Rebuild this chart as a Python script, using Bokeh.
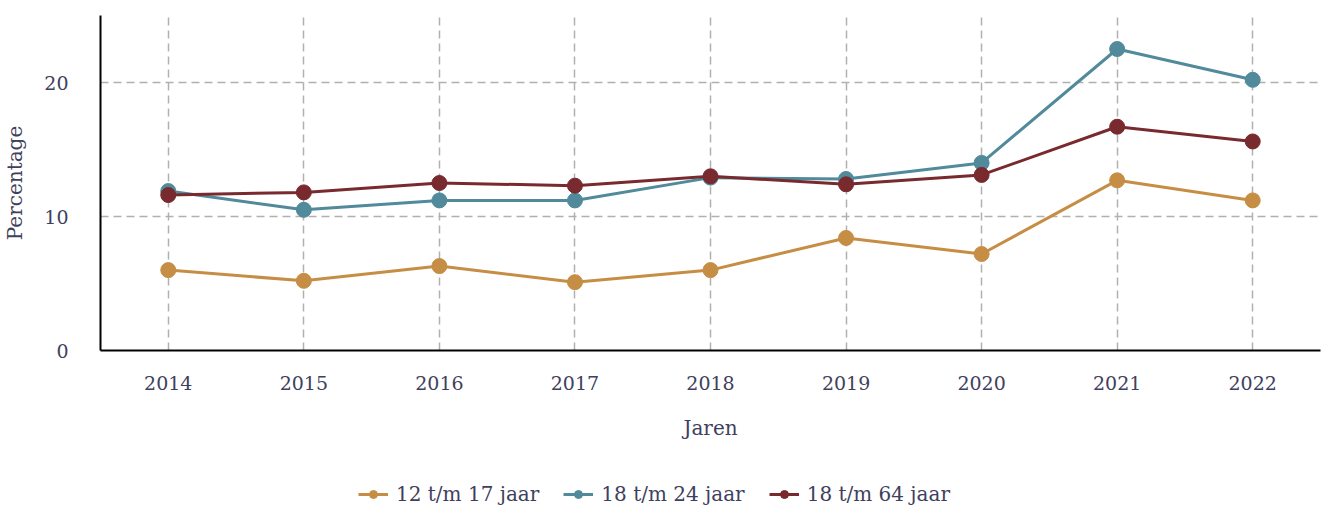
from bokeh.plotting import figure
from bokeh.models import Legend, FixedTicker, Range1d
from bokeh.layouts import column
from bokeh.embed import file_html
from bokeh.resources import INLINE

years = [2014, 2015, 2016, 2017, 2018, 2019, 2020, 2021, 2022]
age_12_17 = [6.0, 5.2, 6.3, 5.1, 6.0, 8.4, 7.2, 12.7, 11.2]
age_18_24 = [11.9, 10.5, 11.2, 11.2, 12.9, 12.8, 14.0, 22.5, 20.2]
age_18_64 = [11.6, 11.8, 12.5, 12.3, 13.0, 12.4, 13.1, 16.7, 15.6]
series_names = ["12 t/m 17 jaar", "18 t/m 24 jaar", "18 t/m 64 jaar"]
colors = ["#C68E45", "#508A9B", "#782A2E"]
y_ticks = [0, 10, 20]

FONT = "DejaVu Serif"
TXT = "#3F3F5E"

p = figure(frame_width=1220, frame_height=335, output_backend="svg", toolbar_location=None,
           x_range=Range1d(2013.5, 2022.5), y_range=Range1d(0, 25),
           min_border_left=100, min_border_right=7, min_border_top=15, min_border_bottom=100)
p.outline_line_color = None
p.background_fill_color = "white"

for name, vals, c in zip(series_names, [age_12_17, age_18_24, age_18_64], colors):
    p.line(years, vals, line_color=c, line_width=3)
    p.scatter(years, vals, size=15, fill_color=c, line_color=c)

p.xaxis.ticker = FixedTicker(ticks=years)
p.yaxis.ticker = FixedTicker(ticks=y_ticks)
for ax in [p.xaxis[0], p.yaxis[0]]:
    ax.major_tick_line_color = None
    ax.minor_tick_line_color = None
    ax.axis_line_color = "black"
    ax.axis_line_width = 2
    ax.major_label_text_font = FONT
    ax.major_label_text_font_size = "19px"
    ax.major_label_text_color = TXT
    ax.axis_label_text_font = FONT
    ax.axis_label_text_font_size = "20px"
    ax.axis_label_text_color = TXT
    ax.axis_label_text_font_style = "normal"
p.xaxis.axis_label = "Jaren"
p.yaxis.axis_label = "Percentage"
p.xaxis.major_label_standoff = 19
p.xaxis.axis_label_standoff = 23
p.yaxis.major_label_standoff = 26
p.yaxis.axis_label_standoff = 14

p.xgrid.grid_line_color = "#B0B0B0"
p.ygrid.grid_line_color = "#B0B0B0"
p.xgrid.grid_line_dash = "8 5"
p.ygrid.grid_line_dash = "8 5"
p.xgrid.grid_line_width = 1.5
p.ygrid.grid_line_width = 1.5

# legend strip below the chart: key renderers sit outside the visible range
lg = figure(width=1327, height=508 - 450, output_backend="svg", toolbar_location=None,
            x_axis_type=None, y_axis_type=None, x_range=Range1d(0, 1), y_range=Range1d(0, 1),
            min_border=0)
lg.outline_line_color = None
lg.xgrid.visible = False
lg.ygrid.visible = False
items = []
for name, c in zip(series_names, colors):
    l = lg.line(x=[5, 6], y=[5, 6], line_color=c, line_width=3)
    s = lg.scatter(x=[5], y=[5], size=15, fill_color=c, line_color=c)
    items.append((name, [l, s]))
legend = Legend(items=items, orientation="horizontal", location=(258, 2),
                label_text_font=FONT, label_text_font_size="20px", label_text_color=TXT,
                border_line_color=None, background_fill_alpha=0,
                glyph_width=30, glyph_height=20, spacing=24, label_standoff=8,
                margin=0, padding=4)
lg.add_layout(legend, "center")

layout = column(p, lg)
open("out.html", "w").write(file_html(layout, INLINE))
